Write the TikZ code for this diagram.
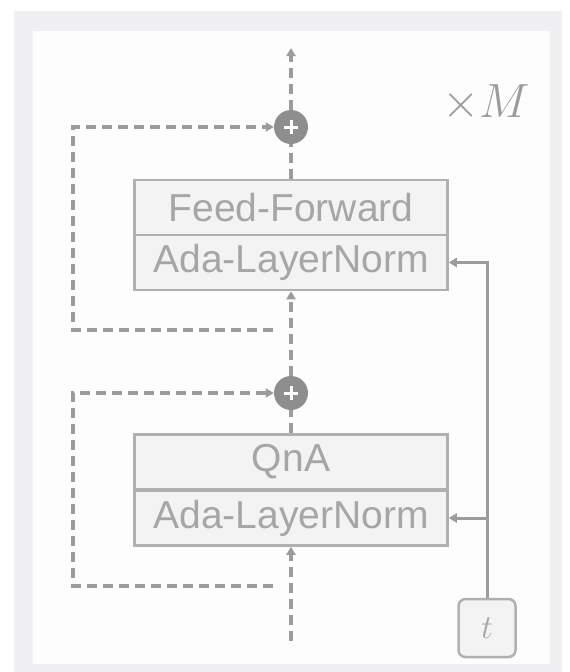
\documentclass[tikz,border=0pt]{standalone}
\usepackage{graphicx}
\usepackage{fontspec}
\setmainfont{Liberation Sans}
\usetikzlibrary{arrows.meta}
\definecolor{bandgray}{HTML}{F0F0F2}
\definecolor{innerwhite}{HTML}{FDFDFD}
\definecolor{linegray}{HTML}{9C9C9C}
\definecolor{boxline}{HTML}{B0B0B0}
\definecolor{boxfill}{HTML}{F3F3F3}
\definecolor{textgray}{HTML}{A6A6A6}
\definecolor{circgray}{HTML}{8E8E8E}
\tikzset{
  blockbox/.style={draw=boxline, fill=boxfill, line width=2.5pt, minimum width=313pt,
    minimum height=55pt, inner sep=0pt, text=textgray,
    font=\fontsize{39}{42}\selectfont},
  addcirc/.style={circle, fill=circgray, minimum size=34pt, inner sep=0pt},
  dashline/.style={draw=linegray, line width=3.5pt, dash pattern=on 10pt off 6pt},
  solidline/.style={draw=linegray, line width=3pt},
  tip/.style={-{Triangle[length=8pt,width=9pt]}},
  tbox/.style={draw=boxline, fill=boxfill, line width=2.5pt, rounded corners=7pt,
    minimum width=57pt, minimum height=58pt, inner sep=0pt, text=textgray}
}
\begin{document}
\begin{tikzpicture}[x=1pt,y=-1pt]
\useasboundingbox (0,0) rectangle (570,672);
\fill[white] (0,0) rectangle (570,672);
\fill[bandgray] (14,11) rectangle (562,672);
\fill[innerwhite] (33,31) rectangle (550,664);

% blocks
\node[blockbox] (ff) at (291,207.5) {Feed-Forward};
\node[blockbox] (ln1) at (291,262.5) {Ada-LayerNorm};
\node[blockbox] (qna) at (291,462) {QnA};
\node[blockbox] (ln2) at (291,518) {Ada-LayerNorm};

% add circles
\node[addcirc] (add1) at (291,127) {};
\node[addcirc] (add2) at (291,393) {};
\foreach \c in {add1,add2}{
  \draw[white, line width=3pt] ([xshift=-7pt]\c.center) -- ([xshift=7pt]\c.center);
  \draw[white, line width=3pt] ([yshift=-7pt]\c.center) -- ([yshift=7pt]\c.center);
}

% t box
\node[tbox] (t) at (487,628) {\scalebox{1.35}{\Huge$t$}};

% times M
\node[text=linegray, inner sep=0pt] (xm) at (486,103) {\scalebox{1.93}{\Huge$\times M$}};

% coordinates
\coordinate (out) at (291,48);
\coordinate (s1) at (273,330);
\coordinate (c1a) at (73,330);
\coordinate (c1b) at (73,127);
\coordinate (s2) at (273,586);
\coordinate (c2a) at (73,586);
\coordinate (c2b) at (73,393);
\coordinate (in) at (291,641);
\coordinate (tr1) at (487,262.5);
\coordinate (tr2) at (487,518);

% main dashed path
\draw[dashline, tip] (add1.north) -- (out);
\draw[dashline] (ff.north) -- (add1.south);
\draw[dashline, tip] (add2.north) -- (ln1.south);
\draw[dashline] (qna.north) -- (add2.south);
\draw[dashline, tip] (in) -- (ln2.south);

% skip connections
\draw[dashline, tip] (s1) -- (c1a) -- (c1b) -- (add1.west);
\draw[dashline, tip] (s2) -- (c2a) -- (c2b) -- (add2.west);

% time conditioning
\draw[solidline, tip] (t.north) -- (tr1) -- (ln1.east);
\draw[solidline, tip] (tr2) -- (ln2.east);
\end{tikzpicture}
\end{document}
